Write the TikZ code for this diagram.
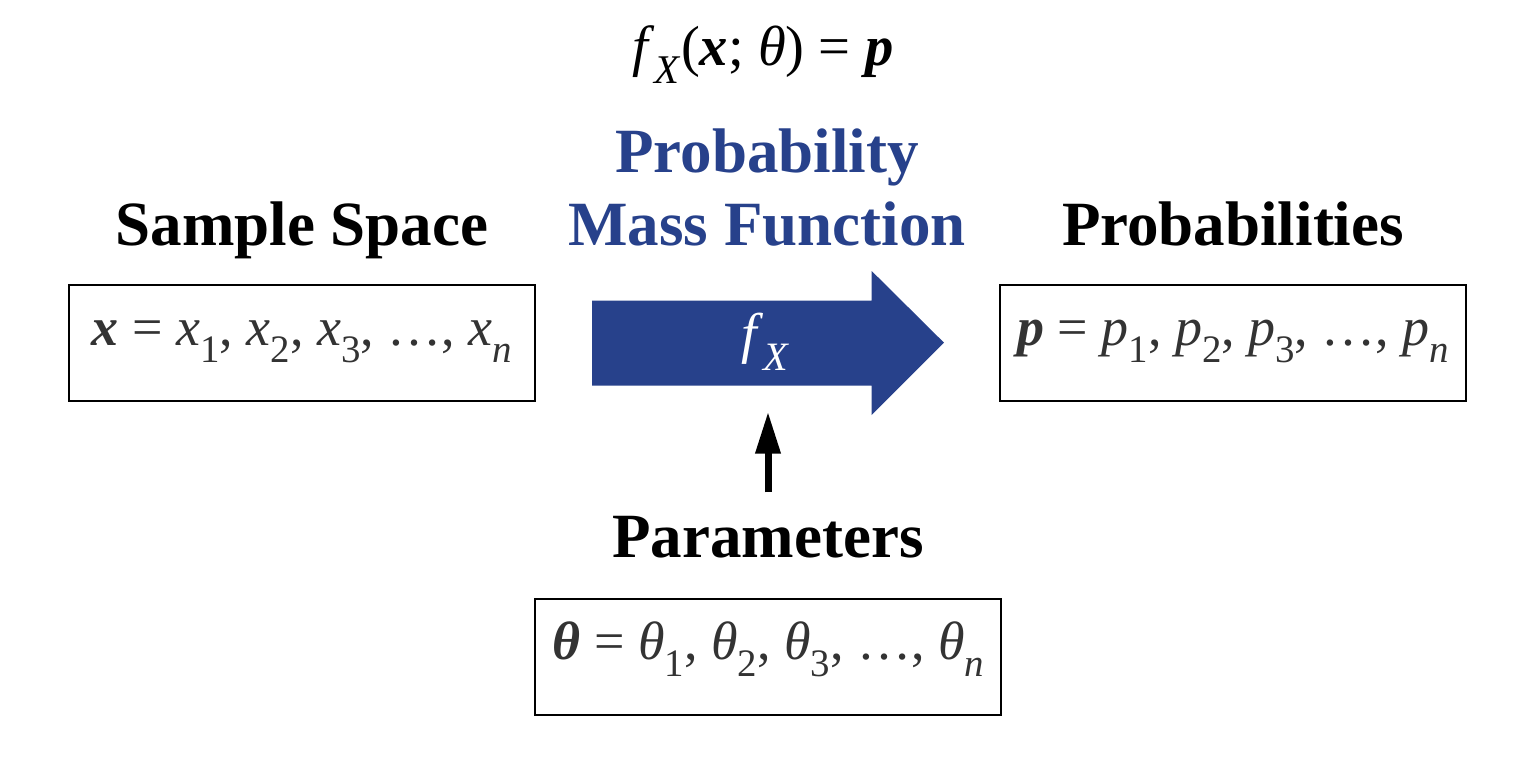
\documentclass[tikz,border=0pt]{standalone}
\usepackage{fontspec}
\usepackage{graphicx}
\setmainfont{Liberation Serif}
\usetikzlibrary{arrows.meta}
\definecolor{pmfblue}{RGB}{39,65,139}
\definecolor{boxtext}{RGB}{51,51,51}
\newcommand{\mysub}[1]{\raisebox{-0.32em}{\scalebox{0.72}{#1}}}
\newcommand{\bi}[1]{\textbf{\textit{#1}}}
\begin{document}
\begin{tikzpicture}[x=0.5pt,y=-0.5pt,
  heading/.style={font=\fontsize{31.5}{36}\selectfont\bfseries, inner sep=0pt, anchor=base},
  valbox/.style={draw=black, line width=1.1pt, minimum width=233pt, minimum height=58pt,
    inner sep=0pt, text=boxtext, font=\fontsize{27}{32}\selectfont,
    text height=0.62em, text depth=0.38em},
  bigarrow/.style={fill=pmfblue, draw=none}]
\useasboundingbox (0,0) rectangle (1536,768);

% title formula
\node[inner sep=0pt, anchor=base, font=\fontsize{28.3}{33}\selectfont] (title) at (763,65)
  {\textit{f}\mysub{\textit{X}}(\bi{x}; \textit{θ}) = \bi{p}};

% headings
\node[heading] (ss) at (302,245) {Sample Space};
\node[heading, text=pmfblue] (pmf1) at (767,172) {Probability};
\node[heading, text=pmfblue] (pmf2) at (767,245) {Mass Function};
\node[heading] (prob) at (1233,245) {Probabilities};
\node[heading] (par) at (768,557) {Parameters};

% boxes
\node[valbox] (xbox) at (302,343)
  {\bi{x} = \textit{x}\mysub{1}, \textit{x}\mysub{2}, \textit{x}\mysub{3}, …, \textit{x}\mysub{\textit{n}}};
\node[valbox] (pbox) at (1233.3,343)
  {\bi{p} = \textit{p}\mysub{1}, \textit{p}\mysub{2}, \textit{p}\mysub{3}, …, \textit{p}\mysub{\textit{n}}};
\node[valbox] (tbox) at (768.3,657)
  {\bi{θ} = \textit{θ}\mysub{1}, \textit{θ}\mysub{2}, \textit{θ}\mysub{3}, …, \textit{θ}\mysub{\textit{n}}};

% big arrow
\path[bigarrow] (592,300.7) -- (871.7,300.7) -- (871.7,271) -- (944,342.7)
  -- (871.7,415) -- (871.7,385.7) -- (592,385.7) -- cycle;
\node[inner sep=0pt, text=white, font=\fontsize{28}{32}\selectfont] (fx) at (765,342)
  {\textit{f}\mysub{\textit{X}}};
\coordinate (fxb) at (768,385.7);

% parameter arrow
\draw[line width=3.5pt, -{Triangle[length=21pt,width=12pt]}, shorten <=11.5pt, shorten >=13pt]
  (par.north) -- (fxb);
\end{tikzpicture}
\end{document}
